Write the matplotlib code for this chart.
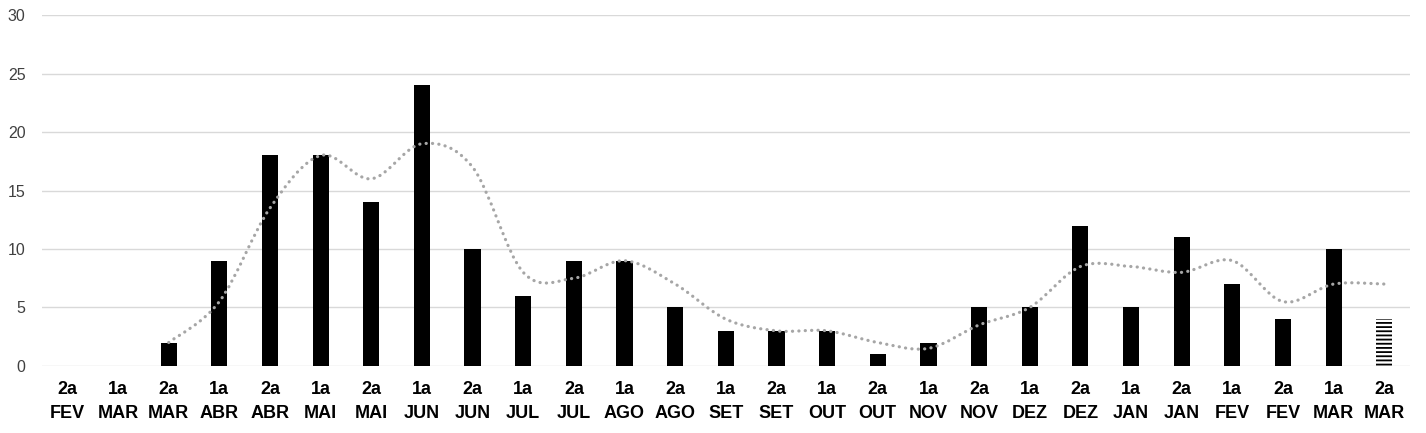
import matplotlib
matplotlib.use("Agg")
import matplotlib.pyplot as plt
from matplotlib.path import Path
from matplotlib.patches import PathPatch
import numpy as np

plt.rcParams['font.family'] = ['Liberation Sans', 'DejaVu Sans']
plt.rcParams['hatch.linewidth'] = 1.3

periods = ["2a", "1a", "2a", "1a", "2a", "1a", "2a", "1a", "2a", "1a", "2a", "1a", "2a", "1a",
           "2a", "1a", "2a", "1a", "2a", "1a", "2a", "1a", "2a", "1a", "2a", "1a", "2a"]
months = ["FEV", "MAR", "MAR", "ABR", "ABR", "MAI", "MAI", "JUN", "JUN", "JUL", "JUL", "AGO", "AGO", "SET",
          "SET", "OUT", "OUT", "NOV", "NOV", "DEZ", "DEZ", "JAN", "JAN", "FEV", "FEV", "MAR", "MAR"]
values = [0, 0, 2, 9, 18, 18, 14, 24, 10, 6, 9, 9, 5, 3, 3, 3, 1, 2, 5, 5, 12, 5, 11, 7, 4, 10, 4]
# trend line (starts at third category)
trend_start = 2
trend = [2, 5.5, 13.5, 18, 16, 19, 17, 8, 7.5, 9, 7, 4, 3, 3, 2, 1.5, 3.5, 5, 8.5, 8.5, 8, 9, 5.5, 7, 7]
y_ticks = [0, 5, 10, 15, 20, 25, 30]

fig = plt.figure(figsize=(14.26, 4.33), dpi=100)
ax = fig.add_axes([0.0295, 0.155, 0.959, 0.81])

n = len(values)
x = np.arange(n)
# solid bars except the last (hatched)
ax.bar(x[:-1], values[:-1], width=0.32, color='black', zorder=3)
ax.bar(x[-1:], values[-1:], width=0.32, color='white', edgecolor='black', linewidth=0,
       hatch='----', zorder=3)

# smoothed dotted trend line (Catmull-Rom -> Bezier)
tx = x[trend_start:trend_start + len(trend)].astype(float)
ty = np.array(trend, dtype=float)
verts = [(tx[0], ty[0])]
codes = [Path.MOVETO]
k = 1 / 6
for i in range(len(tx) - 1):
    p0 = (tx[i - 1], ty[i - 1]) if i > 0 else (tx[i], ty[i])
    p1 = (tx[i], ty[i])
    p2 = (tx[i + 1], ty[i + 1])
    p3 = (tx[i + 2], ty[i + 2]) if i + 2 < len(tx) else p2
    c1 = (p1[0] + (p2[0] - p0[0]) * k, p1[1] + (p2[1] - p0[1]) * k)
    c2 = (p2[0] - (p3[0] - p1[0]) * k, p2[1] - (p3[1] - p1[1]) * k)
    verts += [c1, c2, p2]
    codes += [Path.CURVE4] * 3
patch = PathPatch(Path(verts, codes), facecolor='none', edgecolor='#a6a6a6', linewidth=2.3,
                  linestyle=(0, (0.05, 1.95)), capstyle='round', zorder=4)
ax.add_patch(patch)

ax.set_xlim(-0.5, n - 0.5)
ax.set_ylim(0, 30)
ax.set_yticks(y_ticks)
ax.set_yticklabels([str(t) for t in y_ticks], fontsize=11.5, color='#404040')
ax.grid(axis='y', color='#d9d9d9', linewidth=1.0, zorder=0)
ax.set_axisbelow(True)
ax.set_xticks(x)
ax.set_xticklabels([f"{p}\n{m}" for p, m in zip(periods, months)], fontsize=13,
                   fontweight='bold', linespacing=1.5)
ax.tick_params(axis='both', length=0)
ax.tick_params(axis='x', pad=11)
ax.tick_params(axis='y', pad=12)
for s in ax.spines.values():
    s.set_visible(False)

fig.savefig('out.png', dpi=100)
